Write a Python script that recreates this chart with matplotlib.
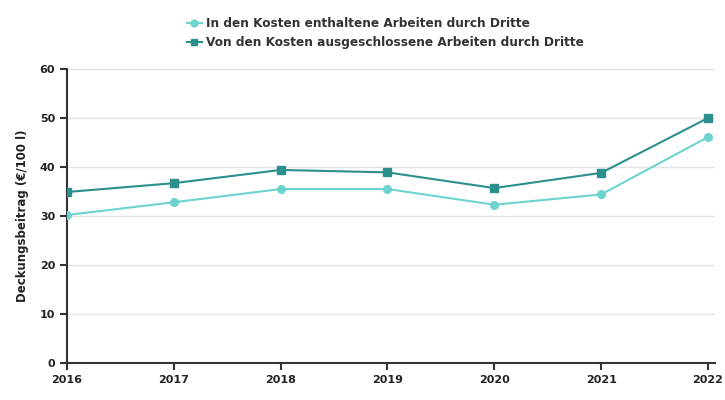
import numpy as np
import matplotlib.pyplot as plt

years = [2016, 2017, 2018, 2019, 2020, 2021, 2022]
enthalten = [30.2, 32.8, 35.5, 35.5, 32.3, 34.4, 46.1]
ausgeschlossen = [34.9, 36.7, 39.4, 38.9, 35.7, 38.8, 50.0]
labels = ["In den Kosten enthaltene Arbeiten durch Dritte",
          "Von den Kosten ausgeschlossene Arbeiten durch Dritte"]

plt.rcParams['font.family'] = 'DejaVu Sans'
plt.rcParams['font.weight'] = 'bold'

fig = plt.figure(figsize=(7.25, 4.0), dpi=100)
ax = fig.add_axes([67/725, 1 - 363/400, (715 - 67)/725, (363 - 69)/400])

ax.plot(years, enthalten, color='#6dd3cf', marker='o', markersize=5.5,
        linewidth=1.5, label=labels[0], zorder=3)
ax.plot(years, ausgeschlossen, color='#2b8f8c', marker='s', markersize=5.5,
        linewidth=1.5, label=labels[1], zorder=3)

ax.set_xlim(2016, 2016 + 6 * (715 - 67) / (708 - 67))
ax.set_ylim(0, 60)
ax.set_xticks(years)
ax.set_yticks(range(0, 61, 10))
ax.grid(axis='y', color='#e3e3e3', linewidth=1)
ax.set_axisbelow(True)

for s in ['top', 'right']:
    ax.spines[s].set_visible(False)
for s in ['left', 'bottom']:
    ax.spines[s].set_color('#333333')
    ax.spines[s].set_linewidth(1.5)
ax.tick_params(axis='both', direction='out', length=5, width=1.5,
               color='#333333', labelsize=8, labelcolor='#222222')
for t in ax.get_xticklabels() + ax.get_yticklabels():
    t.set_fontweight('bold')

ax.set_ylabel('Deckungsbeitrag (€/100 l)', fontsize=8.5, fontweight='bold',
              color='#222222', labelpad=8)

fig.legend(loc='upper center', bbox_to_anchor=(0.532, 0.985), frameon=False,
           handlelength=1.2, handletextpad=0.4, labelspacing=0.5,
           prop={'weight': 'bold', 'size': 8.7}, labelcolor='#333333',
           markerscale=0.9)

fig.savefig('out.png', dpi=100)
